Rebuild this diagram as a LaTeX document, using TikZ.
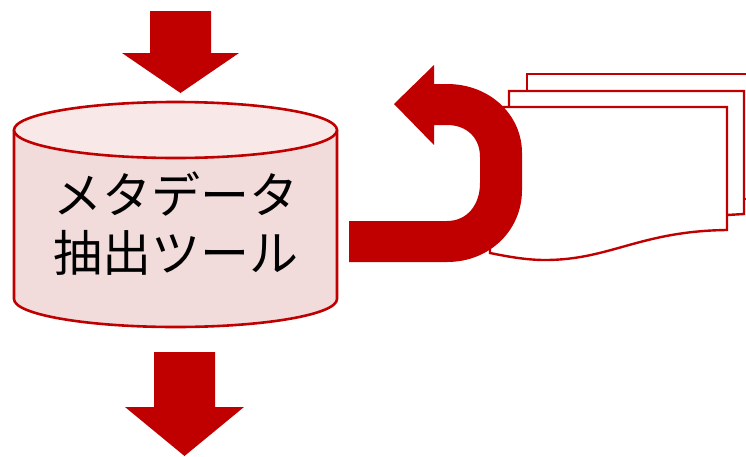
\documentclass[tikz,border=0pt]{standalone}
\usepackage{fontspec}
\usepackage{xcolor}
\newfontfamily\cjk{Noto Sans CJK JP}
\definecolor{darkred}{HTML}{C00000}
\definecolor{bodyred}{HTML}{F2DCDB}
\definecolor{topred}{HTML}{F8E9E8}
\begin{document}
\begin{tikzpicture}[x=1pt,y=-1pt]%
  \tikzstyle{sheet}=[draw=darkred,line width=2.4pt,fill=white,line join=miter]
  \tikzstyle{blockarrow}=[fill=darkred,draw=none]
  \tikzstyle{drum}=[draw=darkred,line width=2.6pt]
  \tikzstyle{toollabel}=[font=\cjk\fontsize{49}{58}\selectfont,align=center,inner sep=0pt]
  \useasboundingbox (0,0) rectangle (746,456);
  % stacked sheets
  \draw[sheet] (527,91) -- (527,74) -- (760,74) -- (760,199) -- (745,199);
  \draw[sheet] (509,107) -- (509,91) -- (744,91) -- (744,214) -- (727,215);
  \draw[sheet] (490,107) -- (727,107) -- (727,230)
    .. controls (640,231) and (610,260) .. (545,260)
    .. controls (525,260) and (505,256) .. (490,253) -- cycle;
  % drum
  \draw[drum,fill=bodyred] (14,130) -- (14,299) arc[start angle=180,end angle=0,x radius=161.5,y radius=28] -- (337,130);
  \draw[drum,fill=topred] (175.5,130) ellipse[x radius=161.5,y radius=28];
  \node(tool)[toollabel] at (176,224) {メタデータ\\抽出ツール};
  % arrows
  \fill[blockarrow] (150,11) -- (211,11) -- (211,53) -- (239,53) -- (180.5,93) -- (122,53) -- (150,53) -- cycle;
  \fill[blockarrow] (154,352) -- (215,352) -- (215,407) -- (244,407) -- (184.5,456) -- (125,407) -- (154,407) -- cycle;
  \fill[blockarrow] (349,221) -- (447,221)
    .. controls (467,221) and (480,205) .. (480,183) -- (480,157)
    .. controls (480,138) and (467,125) .. (447,125) -- (434,125) -- (434,145) -- (394,104) -- (434,65) -- (434,84) -- (447,84)
    .. controls (490,84) and (522,115) .. (522,153) -- (522,190)
    .. controls (522,230) and (490,262) .. (447,262) -- (349,262) -- cycle;
\end{tikzpicture}
\end{document}
